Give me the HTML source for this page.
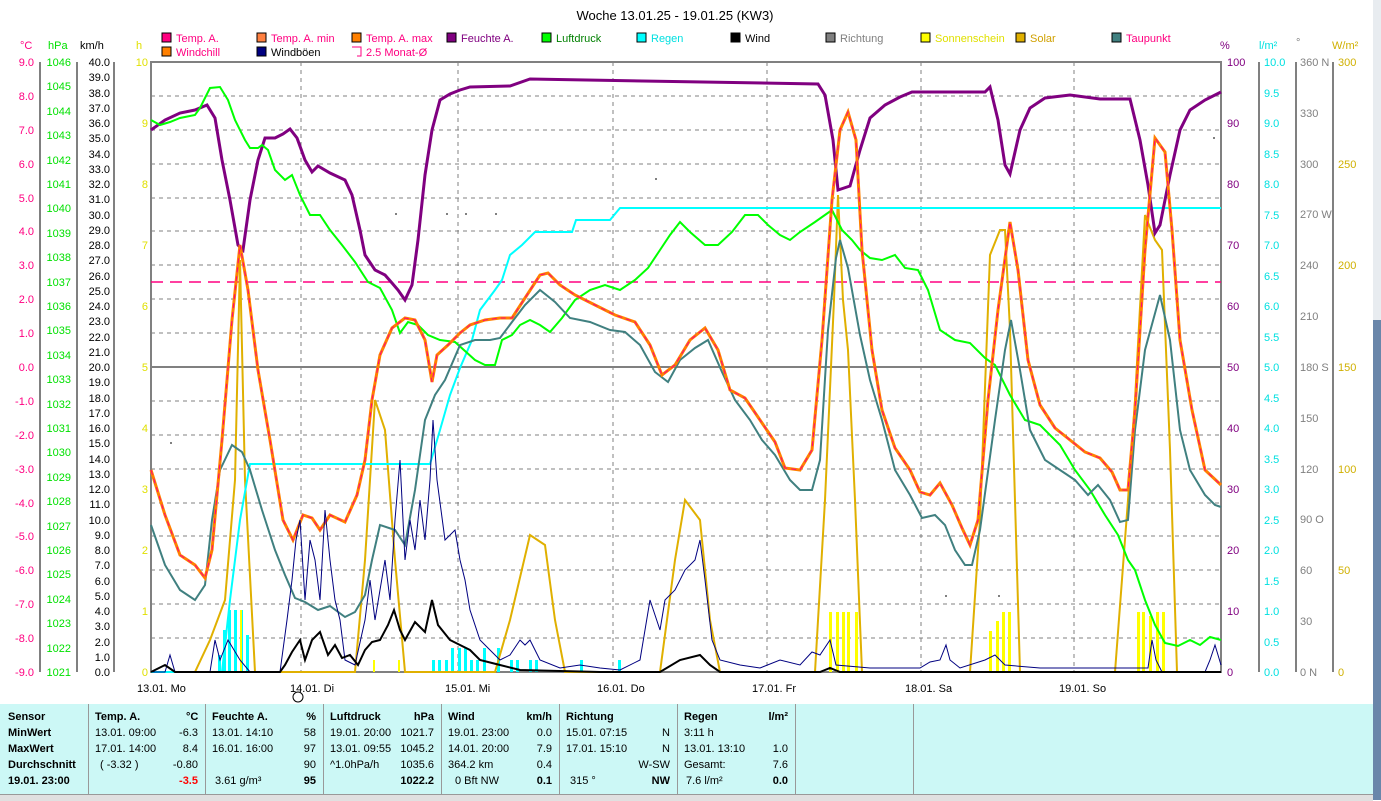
<!DOCTYPE html>
<html><head><meta charset="utf-8"><style>
html,body{margin:0;padding:0;background:#fff;}
body{width:1381px;height:800px;overflow:hidden;position:relative;font-family:"Liberation Sans",sans-serif;}
svg{position:absolute;left:0;top:0;}
.tb{position:absolute;left:0;top:704px;width:1373px;height:90px;background:#ccf8f6;font-size:11px;}
.col{position:absolute;top:0;height:90px;border-right:1px solid #999;}
.r{position:absolute;white-space:nowrap;}
.b{font-weight:bold;}
</style></head><body>
<svg width="1381" height="800" xmlns="http://www.w3.org/2000/svg" font-family="Liberation Sans, sans-serif" font-size="11">
<rect x="1373" y="0" width="8" height="800" fill="#e8ecf0"/>
<rect x="1373" y="320" width="8" height="480" fill="#6a86aa"/>
<text x="675" y="20" font-size="13" text-anchor="middle">Woche 13.01.25 - 19.01.25 (KW3)</text>
<!-- legend -->
<g font-size="11">
<rect x="162" y="33" width="9" height="9" fill="#ff0080" stroke="#000"/><text x="176" y="42" fill="#ff0080">Temp. A.</text>
<rect x="257" y="33" width="9" height="9" fill="#ff8040" stroke="#000"/><text x="271" y="42" fill="#ff0080">Temp. A. min</text>
<rect x="352" y="33" width="9" height="9" fill="#ff8000" stroke="#000"/><text x="366" y="42" fill="#ff0080">Temp. A. max</text>
<rect x="447" y="33" width="9" height="9" fill="#800080" stroke="#000"/><text x="461" y="42" fill="#800080">Feuchte A.</text>
<rect x="542" y="33" width="9" height="9" fill="#00ff00" stroke="#000"/><text x="556" y="42" fill="#008000">Luftdruck</text>
<rect x="637" y="33" width="9" height="9" fill="#00ffff" stroke="#000"/><text x="651" y="42" fill="#00e0e0">Regen</text>
<rect x="731" y="33" width="9" height="9" fill="#000" stroke="#000"/><text x="745" y="42">Wind</text>
<rect x="826" y="33" width="9" height="9" fill="#808080" stroke="#000"/><text x="840" y="42" fill="#808080">Richtung</text>
<rect x="921" y="33" width="9" height="9" fill="#ffff00" stroke="#000"/><text x="935" y="42" fill="#e0e000">Sonnenschein</text>
<rect x="1016" y="33" width="9" height="9" fill="#e0b000" stroke="#000"/><text x="1030" y="42" fill="#d0a000">Solar</text>
<rect x="1112" y="33" width="9" height="9" fill="#408080" stroke="#000"/><text x="1126" y="42" fill="#ff0080">Taupunkt</text>
<rect x="162" y="47" width="9" height="9" fill="#ff8000" stroke="#000"/><text x="176" y="56" fill="#ff0080">Windchill</text>
<rect x="257" y="47" width="9" height="9" fill="#000080" stroke="#000"/><text x="271" y="56">Windböen</text>
<path d="M352 47h9v9h-4" fill="none" stroke="#ff0080"/><text x="366" y="56" fill="#ff0080">2.5 Monat-Ø</text>
</g>
<!-- units -->
<text x="20" y="49" fill="#ff0080">°C</text><text x="48" y="49" fill="#00e000">hPa</text><text x="80" y="49">km/h</text><text x="136" y="49" fill="#e0e000">h</text>
<text x="1220" y="49" fill="#800080">%</text><text x="1259" y="49" fill="#00e0e0">l/m²</text><text x="1296" y="46" fill="#808080">°</text><text x="1332" y="49" fill="#d0b000">W/m²</text>
<!-- axis lines -->
<g stroke="#808080" stroke-width="2"><line x1="40" y1="62" x2="40" y2="672"/><line x1="77" y1="62" x2="77" y2="672"/><line x1="114" y1="62" x2="114" y2="672"/>
<line x1="1259" y1="62" x2="1259" y2="672"/><line x1="1296" y1="62" x2="1296" y2="672"/><line x1="1333" y1="62" x2="1333" y2="672"/></g>
<!-- grid -->
<g stroke="#808080" stroke-dasharray="4,4" stroke-width="1">
<path d="M151 96H1221M151 130H1221M151 164H1221M151 198H1221M151 231H1221M151 265H1221M151 299H1221M151 333H1221M151 401H1221M151 435H1221M151 469H1221M151 503H1221M151 536H1221M151 570H1221M151 604H1221M151 638H1221"/>
<path d="M301 62V672M458 62V672M613 62V672M767 62V672M921 62V672M1074 62V672"/>
</g>
<line x1="151" y1="367" x2="1221" y2="367" stroke="#808080" stroke-width="2"/>
<rect x="151" y="62" width="1070" height="610" fill="none" stroke="#808080" stroke-width="2"/>
<line x1="151" y1="282" x2="1221" y2="282" stroke="#ff0080" stroke-width="1.5" stroke-dasharray="12,7"/>
<!-- °C labels -->
<g fill="#ff0080" text-anchor="end">
<text x="34" y="66">9.0</text><text x="34" y="100">8.0</text><text x="34" y="134">7.0</text><text x="34" y="168">6.0</text><text x="34" y="202">5.0</text><text x="34" y="235">4.0</text><text x="34" y="269">3.0</text><text x="34" y="303">2.0</text><text x="34" y="337">1.0</text><text x="34" y="371">0.0</text><text x="34" y="405">-1.0</text><text x="34" y="439">-2.0</text><text x="34" y="473">-3.0</text><text x="34" y="507">-4.0</text><text x="34" y="540">-5.0</text><text x="34" y="574">-6.0</text><text x="34" y="608">-7.0</text><text x="34" y="642">-8.0</text><text x="34" y="676">-9.0</text></g>
<g fill="#00e000" text-anchor="end">
<text x="71" y="66">1046</text><text x="71" y="90">1045</text><text x="71" y="115">1044</text><text x="71" y="139">1043</text><text x="71" y="164">1042</text><text x="71" y="188">1041</text><text x="71" y="212">1040</text><text x="71" y="237">1039</text><text x="71" y="261">1038</text><text x="71" y="286">1037</text><text x="71" y="310">1036</text><text x="71" y="334">1035</text><text x="71" y="359">1034</text><text x="71" y="383">1033</text><text x="71" y="408">1032</text><text x="71" y="432">1031</text><text x="71" y="456">1030</text><text x="71" y="481">1029</text><text x="71" y="505">1028</text><text x="71" y="530">1027</text><text x="71" y="554">1026</text><text x="71" y="578">1025</text><text x="71" y="603">1024</text><text x="71" y="627">1023</text><text x="71" y="652">1022</text><text x="71" y="676">1021</text></g>
<g text-anchor="end">
<text x="110" y="66">40.0</text><text x="110" y="81">39.0</text><text x="110" y="97">38.0</text><text x="110" y="112">37.0</text><text x="110" y="127">36.0</text><text x="110" y="142">35.0</text><text x="110" y="158">34.0</text><text x="110" y="173">33.0</text><text x="110" y="188">32.0</text><text x="110" y="203">31.0</text><text x="110" y="219">30.0</text><text x="110" y="234">29.0</text><text x="110" y="249">28.0</text><text x="110" y="264">27.0</text><text x="110" y="280">26.0</text><text x="110" y="295">25.0</text><text x="110" y="310">24.0</text><text x="110" y="325">23.0</text><text x="110" y="341">22.0</text><text x="110" y="356">21.0</text><text x="110" y="371">20.0</text><text x="110" y="386">19.0</text><text x="110" y="402">18.0</text><text x="110" y="417">17.0</text><text x="110" y="432">16.0</text><text x="110" y="447">15.0</text><text x="110" y="463">14.0</text><text x="110" y="478">13.0</text><text x="110" y="493">12.0</text><text x="110" y="508">11.0</text><text x="110" y="524">10.0</text><text x="110" y="539">9.0</text><text x="110" y="554">8.0</text><text x="110" y="569">7.0</text><text x="110" y="585">6.0</text><text x="110" y="600">5.0</text><text x="110" y="615">4.0</text><text x="110" y="630">3.0</text><text x="110" y="646">2.0</text><text x="110" y="661">1.0</text><text x="110" y="676">0.0</text></g>
<g fill="#e0e000" text-anchor="end">
<text x="148" y="66">10</text><text x="148" y="127">9</text><text x="148" y="188">8</text><text x="148" y="249">7</text><text x="148" y="310">6</text><text x="148" y="371">5</text><text x="148" y="432">4</text><text x="148" y="493">3</text><text x="148" y="554">2</text><text x="148" y="615">1</text><text x="148" y="676">0</text></g>
<g fill="#800080">
<text x="1227" y="66">100</text><text x="1227" y="127">90</text><text x="1227" y="188">80</text><text x="1227" y="249">70</text><text x="1227" y="310">60</text><text x="1227" y="371">50</text><text x="1227" y="432">40</text><text x="1227" y="493">30</text><text x="1227" y="554">20</text><text x="1227" y="615">10</text><text x="1227" y="676">0</text></g>
<g fill="#00e0e0">
<text x="1264" y="66">10.0</text><text x="1264" y="97">9.5</text><text x="1264" y="127">9.0</text><text x="1264" y="158">8.5</text><text x="1264" y="188">8.0</text><text x="1264" y="219">7.5</text><text x="1264" y="249">7.0</text><text x="1264" y="280">6.5</text><text x="1264" y="310">6.0</text><text x="1264" y="341">5.5</text><text x="1264" y="371">5.0</text><text x="1264" y="402">4.5</text><text x="1264" y="432">4.0</text><text x="1264" y="463">3.5</text><text x="1264" y="493">3.0</text><text x="1264" y="524">2.5</text><text x="1264" y="554">2.0</text><text x="1264" y="585">1.5</text><text x="1264" y="615">1.0</text><text x="1264" y="646">0.5</text><text x="1264" y="676">0.0</text></g>
<g fill="#808080">
<text x="1300" y="66">360 N</text><text x="1300" y="117">330</text><text x="1300" y="168">300</text><text x="1300" y="218">270 W</text><text x="1300" y="269">240</text><text x="1300" y="320">210</text><text x="1300" y="371">180 S</text><text x="1300" y="422">150</text><text x="1300" y="473">120</text><text x="1300" y="523">90 O</text><text x="1300" y="574">60</text><text x="1300" y="625">30</text><text x="1300" y="676">0 N</text></g>
<g fill="#d0b000">
<text x="1338" y="66">300</text><text x="1338" y="168">250</text><text x="1338" y="269">200</text><text x="1338" y="371">150</text><text x="1338" y="473">100</text><text x="1338" y="574">50</text><text x="1338" y="676">0</text></g>
<!-- day labels -->
<g><text x="137" y="692">13.01. Mo</text><text x="290" y="692">14.01. Di</text><text x="445" y="692">15.01. Mi</text><text x="597" y="692">16.01. Do</text><text x="752" y="692">17.01. Fr</text><text x="905" y="692">18.01. Sa</text><text x="1059" y="692">19.01. So</text></g>
<circle cx="298" cy="697" r="5" fill="none" stroke="#000"/>
<!-- bars -->
<g fill="#00ffff">
<rect x="218" y="655" width="3" height="17"/><rect x="223" y="630" width="3" height="42"/><rect x="228" y="610" width="3" height="62"/><rect x="234" y="610" width="3" height="62"/><rect x="240" y="610" width="3" height="62"/><rect x="246" y="635" width="3" height="37"/>
<rect x="432" y="660" width="3" height="12"/><rect x="438" y="660" width="3" height="12"/><rect x="445" y="660" width="3" height="12"/><rect x="451" y="648" width="3" height="24"/><rect x="458" y="648" width="3" height="24"/><rect x="464" y="648" width="3" height="24"/><rect x="470" y="660" width="3" height="12"/><rect x="476" y="660" width="3" height="12"/><rect x="483" y="648" width="3" height="24"/><rect x="497" y="648" width="3" height="24"/><rect x="510" y="660" width="3" height="12"/><rect x="516" y="660" width="3" height="12"/><rect x="529" y="660" width="3" height="12"/><rect x="535" y="660" width="3" height="12"/><rect x="580" y="660" width="3" height="12"/><rect x="618" y="660" width="3" height="12"/></g>
<g fill="#ffff00">
<rect x="240" y="610" width="2" height="62"/><rect x="373" y="660" width="2" height="12"/><rect x="398" y="660" width="2" height="12"/>
<rect x="829" y="612" width="3" height="60"/><rect x="836" y="612" width="3" height="60"/><rect x="842" y="612" width="3" height="60"/><rect x="847" y="612" width="3" height="60"/><rect x="855" y="612" width="3" height="60"/>
<rect x="989" y="631" width="3" height="41"/><rect x="996" y="621" width="3" height="51"/><rect x="1002" y="612" width="3" height="60"/><rect x="1008" y="612" width="3" height="60"/>
<rect x="1137" y="612" width="3" height="60"/><rect x="1142" y="612" width="3" height="60"/><rect x="1149" y="616" width="3" height="56"/><rect x="1156" y="612" width="3" height="60"/><rect x="1162" y="612" width="3" height="60"/></g>
<!-- solar -->
<polyline fill="none" stroke="#e0b000" stroke-width="2" points="151,672 195,672 210,640 225,600 235,480 240,260 245,480 255,672 355,672 365,560 375,400 385,430 395,560 405,672 495,672 510,620 530,535 545,545 555,620 565,672 660,672 675,560 685,500 700,520 710,620 720,672 815,672 825,500 834,300 838,195 843,300 848,350 855,500 862,672 970,672 980,520 990,255 1000,230 1005,230 1010,330 1020,672 1115,672 1128,500 1135,400 1145,215 1155,240 1162,250 1170,450 1177,672 1221,672"/>
<!-- rain cumulative -->
<polyline fill="none" stroke="#00ffff" stroke-width="2" points="151,672 222,672 230,600 240,520 250,464 430,464 440,430 450,395 460,368 472,340 480,310 495,290 502,280 510,255 522,245 535,232 572,232 576,220 610,220 620,208 1221,208"/>
<!-- humidity -->
<polyline fill="none" stroke="#800080" stroke-width="3" points="151,130 165,120 180,113 195,110 207,105 215,118 222,160 230,200 238,245 243,250 250,200 258,160 265,138 275,138 283,134 290,129 297,138 305,160 312,172 318,166 330,173 345,180 352,195 360,230 365,255 375,270 385,275 392,283 398,290 405,300 412,285 418,240 425,175 432,130 440,100 450,94 460,90 470,87 510,86 530,79 818,84 825,95 833,140 838,190 850,186 860,150 870,118 885,105 900,97 912,92 985,92 990,87 998,120 1005,165 1010,174 1020,130 1030,108 1045,98 1070,95 1100,99 1130,99 1140,140 1148,185 1155,233 1160,225 1170,175 1180,130 1190,110 1205,100 1221,92"/>
<!-- pressure -->
<polyline fill="none" stroke="#00ff00" stroke-width="2" points="151,120 160,125 170,122 180,118 195,115 200,108 210,88 220,87 228,100 235,120 245,140 250,148 258,148 262,145 268,150 275,170 285,180 292,175 300,195 310,215 320,215 330,230 342,245 355,262 368,282 380,288 392,310 400,333 408,322 418,325 428,335 440,340 455,342 475,360 485,365 495,365 502,340 512,335 520,325 530,320 540,325 550,332 562,318 575,300 590,290 605,285 620,290 635,280 648,268 660,250 670,235 680,222 690,232 705,245 718,245 732,232 745,215 758,215 768,225 780,235 790,240 800,232 815,222 832,210 842,230 852,240 860,250 870,258 882,260 895,255 905,268 918,270 928,290 940,330 955,340 970,343 985,358 995,365 1010,395 1025,420 1040,425 1060,445 1075,470 1090,490 1105,515 1118,535 1128,560 1135,570 1145,600 1155,625 1165,643 1178,646 1190,640 1200,645 1210,637 1221,640"/>
<!-- dew point -->
<polyline fill="none" stroke="#408080" stroke-width="2" points="151,525 165,565 180,590 195,600 205,585 212,520 220,470 232,445 242,452 250,470 262,510 275,550 285,575 295,598 305,602 318,610 330,606 345,617 355,612 365,595 372,560 380,525 395,530 405,545 415,490 425,420 435,395 445,380 460,345 475,340 490,340 500,338 512,322 525,305 540,290 555,302 570,318 590,322 610,330 625,332 640,345 655,372 668,382 680,360 695,348 708,340 722,372 735,400 750,420 762,440 775,455 790,480 800,490 812,490 820,460 828,330 836,258 840,240 848,268 860,335 870,380 882,420 895,470 910,495 922,518 935,515 945,525 955,550 965,565 972,565 980,530 995,420 1005,350 1011,320 1020,370 1030,430 1045,460 1060,470 1075,480 1088,495 1098,485 1110,500 1120,522 1128,520 1135,430 1145,350 1160,295 1170,340 1180,430 1190,470 1205,495 1215,505 1221,507"/>
<!-- temperature -->
<polyline fill="none" stroke="#ff8000" stroke-width="3" points="151,470 165,515 180,555 195,565 205,578 212,550 222,440 232,320 240,245 248,290 258,370 270,440 283,520 293,540 303,515 312,518 320,530 330,515 345,522 357,495 365,460 372,400 380,355 392,328 405,318 415,320 425,340 432,382 437,355 448,345 460,333 470,325 485,320 500,318 512,318 525,298 540,275 548,273 560,285 575,295 595,305 615,315 635,322 650,345 662,375 675,365 690,340 705,328 718,350 730,390 745,398 760,420 775,442 785,468 800,470 812,450 822,340 832,200 840,130 848,112 856,140 862,250 872,350 882,410 895,448 910,470 920,492 930,495 940,483 952,505 962,528 970,545 978,520 988,400 998,310 1010,222 1018,270 1028,360 1040,405 1055,428 1070,440 1085,452 1100,458 1112,472 1120,490 1128,490 1135,410 1145,250 1155,138 1165,152 1172,230 1180,340 1192,410 1205,470 1221,485"/>
<polyline fill="none" stroke="#ff0080" stroke-width="1" stroke-dasharray="5,4" points="151,470 165,515 180,555 195,565 205,578 212,550 222,440 232,320 240,245 248,290 258,370 270,440 283,520 293,540 303,515 312,518 320,530 330,515 345,522 357,495 365,460 372,400 380,355 392,328 405,318 415,320 425,340 432,382 437,355 448,345 460,333 470,325 485,320 500,318 512,318 525,298 540,275 548,273 560,285 575,295 595,305 615,315 635,322 650,345 662,375 675,365 690,340 705,328 718,350 730,390 745,398 760,420 775,442 785,468 800,470 812,450 822,340 832,200 840,130 848,112 856,140 862,250 872,350 882,410 895,448 910,470 920,492 930,495 940,483 952,505 962,528 970,545 978,520 988,400 998,310 1010,222 1018,270 1028,360 1040,405 1055,428 1070,440 1085,452 1100,458 1112,472 1120,490 1128,490 1135,410 1145,250 1155,138 1165,152 1172,230 1180,340 1192,410 1205,470 1221,485"/>
<!-- gusts -->
<polyline fill="none" stroke="#000080" stroke-width="1" points="151,672 165,672 170,655 175,672 210,672 215,640 220,660 228,640 240,660 250,672 280,672 287,620 292,580 296,540 300,520 305,600 310,540 315,560 320,600 325,510 330,560 335,600 340,620 345,660 355,665 365,620 370,580 375,620 385,560 390,600 395,520 400,460 405,560 410,520 415,550 420,500 425,540 430,480 433,420 437,480 445,540 455,530 460,560 465,580 470,610 480,640 490,650 500,660 510,655 520,640 525,645 530,640 540,660 560,668 580,665 600,668 620,670 640,660 650,600 660,630 665,600 675,590 685,570 695,560 700,540 705,580 712,640 720,660 740,665 760,668 780,660 800,665 812,652 820,655 830,640 836,665 870,668 920,668 930,662 940,660 946,645 950,660 960,668 985,660 995,655 1005,665 1040,668 1100,668 1148,668 1152,640 1156,660 1162,672 1205,672 1210,660 1215,645 1221,665"/>
<!-- wind -->
<polyline fill="none" stroke="#000" stroke-width="2" points="151,672 165,665 175,672 280,672 285,665 292,652 300,640 305,660 312,640 320,632 328,655 335,645 342,658 350,655 358,665 365,650 372,642 380,640 388,625 394,610 400,630 405,640 415,622 425,632 432,600 438,625 450,640 460,645 470,650 480,660 500,665 520,670 600,672 660,672 680,660 700,655 710,665 720,672 820,672 830,668 840,672 1221,672"/>
<g fill="#808080"><rect x="170" y="442" width="2" height="2"/><rect x="395" y="213" width="2" height="2"/><rect x="446" y="213" width="2" height="2"/><rect x="465" y="213" width="2" height="2"/><rect x="495" y="213" width="2" height="2"/><rect x="655" y="178" width="2" height="2"/><rect x="1213" y="137" width="2" height="2"/><rect x="945" y="595" width="2" height="2"/><rect x="998" y="595" width="2" height="2"/></g>
</svg>
<div class="tb">
<div class="col" style="left:0;width:88px"></div>
<div class="col" style="left:89px;width:116px"></div>
<div class="col" style="left:206px;width:117px"></div>
<div class="col" style="left:324px;width:117px"></div>
<div class="col" style="left:442px;width:117px"></div>
<div class="col" style="left:560px;width:117px"></div>
<div class="col" style="left:678px;width:117px"></div>
<div class="col" style="left:796px;width:117px"></div>
<div class="r b" style="left:8px;top:7px">Sensor</div><div class="r b" style="left:8px;top:23px">MinWert</div><div class="r b" style="left:8px;top:39px">MaxWert</div><div class="r b" style="left:8px;top:55px">Durchschnitt</div><div class="r b" style="left:8px;top:71px">19.01. 23:00</div>
<div class="r b" style="left:95px;top:7px">Temp. A.</div><div class="r b" style="left:186px;top:7px">°C</div>
<div class="r" style="left:95px;top:23px">13.01. 09:00</div><div class="r" style="right:1175px;top:23px">-6.3</div>
<div class="r" style="left:95px;top:39px">17.01. 14:00</div><div class="r" style="right:1175px;top:39px">8.4</div>
<div class="r" style="left:100px;top:55px">( -3.32 )</div><div class="r" style="right:1175px;top:55px">-0.80</div>
<div class="r b" style="right:1175px;top:71px;color:#f00">-3.5</div>
<div class="r b" style="left:212px;top:7px">Feuchte A.</div><div class="r b" style="right:1057px;top:7px">%</div>
<div class="r" style="left:212px;top:23px">13.01. 14:10</div><div class="r" style="right:1057px;top:23px">58</div>
<div class="r" style="left:212px;top:39px">16.01. 16:00</div><div class="r" style="right:1057px;top:39px">97</div>
<div class="r" style="right:1057px;top:55px">90</div>
<div class="r" style="left:215px;top:71px">3.61 g/m³</div><div class="r b" style="right:1057px;top:71px">95</div>
<div class="r b" style="left:330px;top:7px">Luftdruck</div><div class="r b" style="right:939px;top:7px">hPa</div>
<div class="r" style="left:330px;top:23px">19.01. 20:00</div><div class="r" style="right:939px;top:23px">1021.7</div>
<div class="r" style="left:330px;top:39px">13.01. 09:55</div><div class="r" style="right:939px;top:39px">1045.2</div>
<div class="r" style="left:330px;top:55px">^1.0hPa/h</div><div class="r" style="right:939px;top:55px">1035.6</div>
<div class="r b" style="right:939px;top:71px">1022.2</div>
<div class="r b" style="left:448px;top:7px">Wind</div><div class="r b" style="right:821px;top:7px">km/h</div>
<div class="r" style="left:448px;top:23px">19.01. 23:00</div><div class="r" style="right:821px;top:23px">0.0</div>
<div class="r" style="left:448px;top:39px">14.01. 20:00</div><div class="r" style="right:821px;top:39px">7.9</div>
<div class="r" style="left:448px;top:55px">364.2 km</div><div class="r" style="right:821px;top:55px">0.4</div>
<div class="r" style="left:455px;top:71px">0 Bft NW</div><div class="r b" style="right:821px;top:71px">0.1</div>
<div class="r b" style="left:566px;top:7px">Richtung</div>
<div class="r" style="left:566px;top:23px">15.01. 07:15</div><div class="r" style="right:703px;top:23px">N</div>
<div class="r" style="left:566px;top:39px">17.01. 15:10</div><div class="r" style="right:703px;top:39px">N</div>
<div class="r" style="right:703px;top:55px">W-SW</div>
<div class="r" style="left:570px;top:71px">315 °</div><div class="r b" style="right:703px;top:71px">NW</div>
<div class="r b" style="left:684px;top:7px">Regen</div><div class="r b" style="right:585px;top:7px">l/m²</div>
<div class="r" style="left:684px;top:23px">3:11 h</div>
<div class="r" style="left:684px;top:39px">13.01. 13:10</div><div class="r" style="right:585px;top:39px">1.0</div>
<div class="r" style="left:684px;top:55px">Gesamt:</div><div class="r" style="right:585px;top:55px">7.6</div>
<div class="r" style="left:686px;top:71px">7.6 l/m²</div><div class="r b" style="right:585px;top:71px">0.0</div>
</div>
<div style="position:absolute;left:0;top:794px;width:1373px;height:6px;background:#e0e0e0;border-top:1px solid #999"></div>
</body></html>
